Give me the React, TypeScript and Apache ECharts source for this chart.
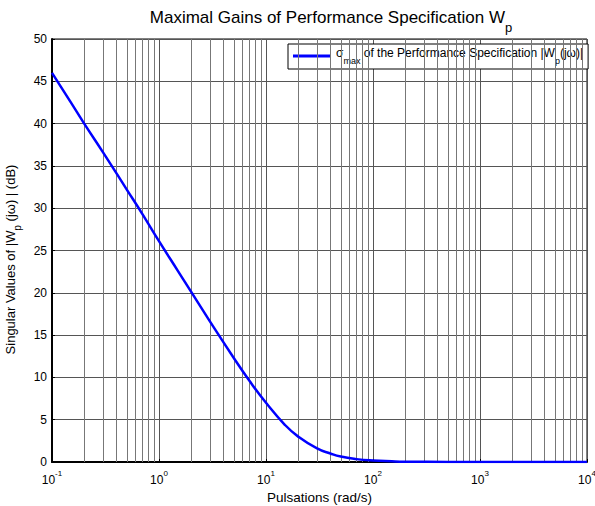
import React, { useEffect, useRef } from "react";
import * as echarts from "echarts";

const pulsations = [0.1, 0.15, 0.2, 0.3, 0.5, 0.7, 1, 1.5, 2, 3, 5, 7, 10, 15, 20, 30, 40, 50, 70, 100, 150, 200, 500, 1000, 10000];
const gainsDb = [46.0, 42.5, 40.0, 36.6, 32.2, 29.3, 26.1, 22.6, 20.1, 16.6, 12.3, 9.6, 7.0, 4.4, 3.0, 1.6, 1.0, 0.64, 0.34, 0.17, 0.08, 0.04, 0.01, 0.0, 0.0];
const minorGridValues = [
  0.2, 0.3, 0.4, 0.5, 0.6, 0.7, 0.8, 0.9,
  2, 3, 4, 5, 6, 7, 8, 9,
  20, 30, 40, 50, 60, 70, 80, 90,
  200, 300, 400, 500, 600, 700, 800, 900,
  2000, 3000, 4000, 5000, 6000, 7000, 8000, 9000,
];
const yTicks = { min: 0, max: 50, interval: 5 };
const xRange = { min: 0.1, max: 10000 };

const FONT = "'Liberation Sans', Arial, sans-serif";

export default function App() {
  const ref = useRef<HTMLDivElement>(null);
  useEffect(() => {
    document.body.style.margin = "0";
    if (!ref.current) return;
    const chart = echarts.init(ref.current, null, { renderer: "svg" });
    const data = pulsations.map((x, i) => [x, gainsDb[i]]);
    chart.setOption({
      animation: false,
      backgroundColor: "#fff",
      textStyle: { fontFamily: FONT },
      title: {
        text: "{t|Maximal Gains of Performance Specification W}{s|p}",
        left: 326,
        textAlign: "center",
        top: 4,
        textStyle: {
          fontWeight: "normal",
          rich: {
            t: { fontSize: 17, fontFamily: FONT, fontWeight: "normal", color: "#000", lineHeight: 25, verticalAlign: "top" },
            s: { fontSize: 13, fontFamily: FONT, fontWeight: "normal", color: "#000", lineHeight: 25, verticalAlign: "bottom" },
          },
        },
      },
      legend: {
        left: 288,
        top: 44,
        itemWidth: 38,
        itemHeight: 3,
        icon: "rect",
        borderColor: "#000",
        borderWidth: 1,
        borderRadius: 0,
        padding: [3, 5, 4, 5],
        itemGap: 4,
        backgroundColor: "#fff",
        formatter: () => "{a|σ}{b|max}{a| of the Performance Specification |W}{b|p}{a|(jω)|}",
        textStyle: {
          rich: {
            a: { fontSize: 12, fontFamily: FONT, color: "#000", lineHeight: 18, verticalAlign: "top" },
            b: { fontSize: 9, fontFamily: FONT, color: "#000", lineHeight: 18, verticalAlign: "bottom" },
          },
        },
        data: ["sigma"],
      },
      grid: {
        left: 52,
        right: 8,
        top: 39,
        bottom: 44,
        outerBoundsMode: "none",
        containLabel: false,
        show: true,
        borderColor: "#000",
        borderWidth: 1,
      },
      xAxis: {
        type: "log",
        logBase: 10,
        min: xRange.min,
        max: xRange.max,
        name: "Pulsations (rad/s)",
        nameLocation: "middle",
        nameGap: 25,
        nameTextStyle: { fontSize: 13.5, color: "#000", fontFamily: FONT },
        axisLine: { show: true, lineStyle: { color: "#000", width: 2 } },
        axisTick: { show: true, inside: true, length: 3, lineStyle: { color: "#000" } },
        axisLabel: {
          margin: 7,
          formatter: (v: number) => `{b|10}{s|${Math.round(Math.log10(v))}}`,
          rich: {
            b: { fontSize: 12, fontFamily: FONT, color: "#000", lineHeight: 17, verticalAlign: "bottom" },
            s: { fontSize: 8, fontFamily: FONT, color: "#000", lineHeight: 17, verticalAlign: "top" },
          },
        },
        splitLine: { show: true, lineStyle: { color: "#555", width: 1 } },
      },
      yAxis: {
        type: "value",
        min: yTicks.min,
        max: yTicks.max,
        interval: yTicks.interval,
        name: "{a|Singular Values of |W}{b|p}{a| (jω) | (dB)}",
        nameLocation: "middle",
        nameGap: 20,
        nameTextStyle: {
          padding: [0, 18, 0, 0],
          rich: {
            a: { fontSize: 13, fontFamily: FONT, color: "#000", lineHeight: 19, verticalAlign: "top" },
            b: { fontSize: 10, fontFamily: FONT, color: "#000", lineHeight: 19, verticalAlign: "bottom" },
          },
        },
        axisLine: { show: true, lineStyle: { color: "#000", width: 2 } },
        axisTick: { show: true, inside: true, length: 3, lineStyle: { color: "#000" } },
        axisLabel: { fontSize: 12, color: "#000", fontFamily: FONT, margin: 5 },
        splitLine: { show: true, lineStyle: { color: "#555", width: 1 } },
      },
      series: [
        {
          name: "sigma",
          type: "line",
          data,
          showSymbol: false,
          smooth: true,
          lineStyle: { color: "#0000ff", width: 2.5 },
          itemStyle: { color: "#0000ff" },
          z: 5,
          markLine: {
            silent: true,
            symbol: "none",
            label: { show: false },
            lineStyle: { color: "#777", width: 1, type: "solid" },
            emphasis: { disabled: true },
            data: minorGridValues.map((v) => ({ xAxis: v })),
          },
        },
      ],
    });
    return () => chart.dispose();
  }, []);
  return <div ref={ref} style={{ width: 595, height: 506 }} />;
}
